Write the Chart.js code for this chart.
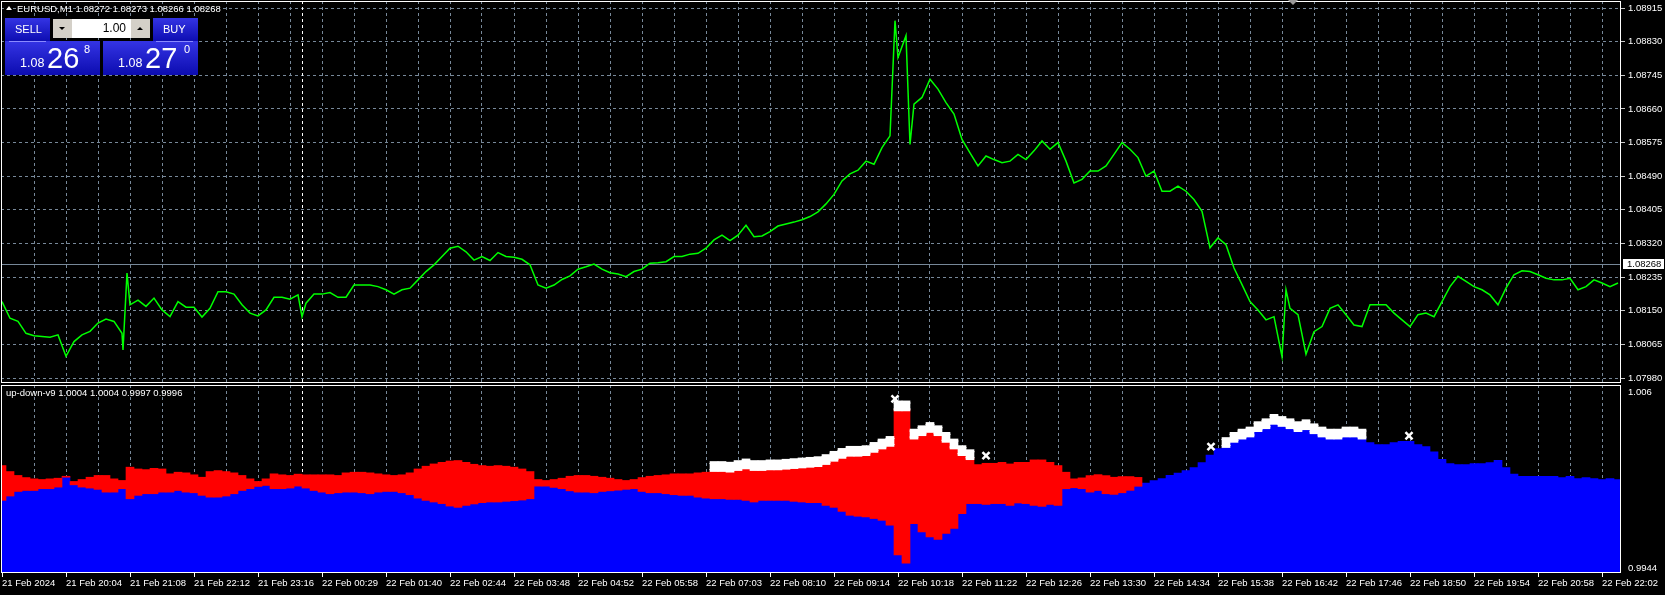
<!DOCTYPE html>
<html lang="de">
<head>
<meta charset="utf-8">
<title>EURUSD M1</title>
<script src="https://cdn.jsdelivr.net/npm/chart.js@4.4.1/dist/chart.umd.min.js"></script>
<style>
  body { margin: 0; width: 1665px; height: 595px; background: #000; overflow: hidden; position: relative;
         font-family: 'Liberation Sans', Arial, sans-serif; color: #fff; }
  canvas { position: absolute; left: 0; }
  #mainChart { top: 0; }
  #indChart { top: 384px; }
  .txt { position: absolute; white-space: nowrap; font-size: 9.5px; line-height: 12px; }
  .blue { position: absolute; background: linear-gradient(#3434e4, #0c0cb0); }
  .lbl { position: absolute; white-space: nowrap; line-height: 1; color: #fff; }
  .uline { position: absolute; height: 1px; background: #8a8aff; top: 41px; }
  .lotbtn { position: absolute; top: 19px; width: 19px; height: 19px; background: #d4d0c8; }
  .tri { position: absolute; width: 0; height: 0; border-left: 3px solid transparent; border-right: 3px solid transparent; }
  #bidLabel { position: absolute; left: 1623px; width: 37px; height: 10px; line-height: 10px; padding-left: 4px;
              background: #fff; color: #000; font-size: 9.5px; }
</style>
</head>
<body>
<canvas id="mainChart" width="1665" height="384"></canvas>
<canvas id="indChart" width="1665" height="211"></canvas>

<!-- Titelzeile -->
<div class="tri" style="left:6px;top:6px;border-bottom:4px solid #fff"></div>
<div class="txt" style="left:17px;top:3px">EURUSD,M1 1.08272 1.08273 1.08266 1.08268</div>

<!-- Handelspanel -->
<div class="blue" style="left:5px;top:18px;width:45px;height:24px"></div>
<div class="blue" style="left:153px;top:18px;width:45px;height:24px"></div>
<div class="blue" style="left:5px;top:41px;width:95px;height:34px"></div>
<div class="blue" style="left:103px;top:41px;width:95px;height:34px"></div>
<div class="uline" style="left:9px;width:37px"></div>
<div class="uline" style="left:156px;width:37px"></div>
<div class="lbl" style="left:15px;top:24px;font-size:11px">SELL</div>
<div class="lbl" style="left:163px;top:24px;font-size:11px">BUY</div>
<div class="lotbtn" style="left:53px"><div class="tri" style="left:6px;top:8px;border-top:3px solid #000"></div></div>
<div class="lotbtn" style="left:131px"><div class="tri" style="left:6px;top:8px;border-bottom:3px solid #000"></div></div>
<div style="position:absolute;left:72px;top:19px;width:59px;height:19px;background:#fff"></div>
<div class="lbl" style="left:72px;top:22px;width:54px;text-align:right;font-size:12px;color:#000">1.00</div>
<div class="lbl" style="left:20px;top:57px;font-size:12.5px">1.08</div>
<div class="lbl" style="left:47px;top:44px;font-size:29px">26</div>
<div class="lbl" style="left:84px;top:44px;font-size:11px">8</div>
<div class="lbl" style="left:118px;top:57px;font-size:12.5px">1.08</div>
<div class="lbl" style="left:145px;top:44px;font-size:29px">27</div>
<div class="lbl" style="left:184px;top:44px;font-size:11px">0</div>

<!-- Markierung oben (Chart-Verschiebung) -->
<div class="tri" style="left:1288px;top:0px;border-left-width:5px;border-right-width:5px;border-top:5px solid #9a9a9a"></div>

<!-- Indikator-Beschriftungen -->
<div class="txt" style="left:6px;top:387px">up-down-v9 1.0004 1.0004 0.9997 0.9996</div>
<div class="txt" style="left:1628px;top:386px">1.006</div>
<div class="txt" style="left:1628px;top:562px">0.9944</div>
<div id="bidLabel">1.08268</div>

<script>
// Zeitachse: Minuten ab 21 Feb 19:00, ein Wert alle 8 Minuten
const stepMinutes = 8;

// Beschriftungen der Zeitachse (alle 64 Minuten)
const xLabels = ['21 Feb 2024', '21 Feb 20:04', '21 Feb 21:08', '21 Feb 22:12', '21 Feb 23:16',
  '22 Feb 00:29', '22 Feb 01:40', '22 Feb 02:44', '22 Feb 03:48', '22 Feb 04:52', '22 Feb 05:58',
  '22 Feb 07:03', '22 Feb 08:10', '22 Feb 09:14', '22 Feb 10:18', '22 Feb 11:22', '22 Feb 12:26',
  '22 Feb 13:30', '22 Feb 14:34', '22 Feb 15:38', '22 Feb 16:42', '22 Feb 17:46', '22 Feb 18:50',
  '22 Feb 19:54', '22 Feb 20:58', '22 Feb 22:02'];

// Preisskala rechts
const priceTicks = [1.07980, 1.08065, 1.08150, 1.08235, 1.08320, 1.08405, 1.08490,
  1.08575, 1.08660, 1.08745, 1.08830, 1.08915];
const priceRange = [1.079674, 1.089327];
const bidPrice = 1.08268;
const daySeparator = [300]; // 22 Feb 00:00

// EURUSD Schlusskurse
const priceClose = [
  1.08173, 1.08131, 1.08123, 1.08093, 1.08087, 1.08085, 1.08083, 1.08089, 1.08035, 1.08072,
  1.08089, 1.08098, 1.08119, 1.08129, 1.08123, 1.08093, 1.08165, 1.08177, 1.08161, 1.08182,
  1.08152, 1.08135, 1.08173, 1.08159, 1.08159, 1.08134, 1.08156, 1.08198, 1.08198, 1.08192,
  1.08165, 1.08144, 1.08137, 1.08152, 1.08184, 1.08184, 1.08179, 1.08190, 1.08169, 1.08192,
  1.08192, 1.08196, 1.08184, 1.08184, 1.08215, 1.08215, 1.08215, 1.08211, 1.08203, 1.08192,
  1.08203, 1.08207, 1.08228, 1.08249, 1.08266, 1.08287, 1.08308, 1.08313, 1.08299, 1.08278,
  1.08287, 1.08277, 1.08297, 1.08287, 1.08285, 1.08280, 1.08266, 1.08215, 1.08207, 1.08215,
  1.08229, 1.08238, 1.08255, 1.08261, 1.08268, 1.08255, 1.08246, 1.08243, 1.08236, 1.08249,
  1.08255, 1.08270, 1.08271, 1.08274, 1.08287, 1.08287, 1.08293, 1.08295, 1.08308, 1.08329,
  1.08341, 1.08327, 1.08341, 1.08366, 1.08337, 1.08339, 1.08350, 1.08364, 1.08369, 1.08374,
  1.08380, 1.08388, 1.08400, 1.08420, 1.08444, 1.08478, 1.08496, 1.08505, 1.08528, 1.08520,
  1.08562, 1.08592, 1.08790, 1.08845, 1.08672, 1.08689, 1.08735, 1.08710, 1.08676, 1.08647,
  1.08583, 1.08549, 1.08516, 1.08541, 1.08532, 1.08524, 1.08528, 1.08545, 1.08532, 1.08554,
  1.08579, 1.08558, 1.08575, 1.08528, 1.08473, 1.08482, 1.08503, 1.08503, 1.08516, 1.08545,
  1.08575, 1.08558, 1.08537, 1.08490, 1.08503, 1.08452, 1.08452, 1.08465, 1.08452, 1.08431,
  1.08401, 1.08309, 1.08334, 1.08317, 1.08258, 1.08216, 1.08173, 1.08152, 1.08127, 1.08135,
  1.08034, 1.08156, 1.08140, 1.08040, 1.08097, 1.08110, 1.08156, 1.08165, 1.08140, 1.08114,
  1.08110, 1.08165, 1.08165, 1.08165, 1.08144, 1.08127, 1.08110, 1.08140, 1.08144, 1.08135,
  1.08173, 1.08211, 1.08237, 1.08224, 1.08211, 1.08203, 1.08190, 1.08165, 1.08207, 1.08241,
  1.08251, 1.08249, 1.08241, 1.08232, 1.08228, 1.08228, 1.08232, 1.08203, 1.08211, 1.08228,
  1.08220, 1.08211, 1.08220
];

// Einzelne Ausreisser (Minute, Kurs)
const spikeMinutes = [121, 125, 300, 893, 908, 1284];
const spikeValues = [1.08051, 1.08245, 1.08135, 1.08883, 1.08570, 1.08203];

// Indikator up-down-v9
const indicatorRange = [0.9944, 1.006];

// blaues Histogramm (Obergrenze)
const blueLevel = [
  0.99888, 0.99915, 0.99943, 0.99949, 0.99949, 0.99960, 0.99960, 0.99970, 1.00031, 0.99984,
  0.99970, 0.99964, 0.99956, 0.99939, 0.99939, 0.99960, 0.99898, 0.99919, 0.99929, 0.99929,
  0.99939, 0.99939, 0.99949, 0.99939, 0.99935, 0.99919, 0.99908, 0.99908, 0.99915, 0.99929,
  0.99949, 0.99960, 0.99974, 0.99980, 0.99960, 0.99960, 0.99964, 0.99976, 0.99964, 0.99949,
  0.99939, 0.99929, 0.99935, 0.99939, 0.99939, 0.99935, 0.99929, 0.99939, 0.99943, 0.99943,
  0.99935, 0.99923, 0.99902, 0.99888, 0.99878, 0.99868, 0.99853, 0.99845, 0.99857, 0.99866,
  0.99874, 0.99878, 0.99878, 0.99882, 0.99886, 0.99890, 0.99898, 0.99976, 0.99976, 0.99968,
  0.99960, 0.99947, 0.99939, 0.99939, 0.99935, 0.99943, 0.99947, 0.99951, 0.99956, 0.99960,
  0.99943, 0.99935, 0.99935, 0.99929, 0.99923, 0.99919, 0.99919, 0.99908, 0.99902, 0.99898,
  0.99898, 0.99894, 0.99894, 0.99888, 0.99878, 0.99888, 0.99888, 0.99888, 0.99888, 0.99882,
  0.99878, 0.99874, 0.99874, 0.99857, 0.99845, 0.99820, 0.99796, 0.99790, 0.99786, 0.99776,
  0.99765, 0.99735, 0.99551, 0.99500, 0.99745, 0.99694, 0.99663, 0.99647, 0.99684, 0.99715,
  0.99806, 0.99868, 0.99868, 0.99863, 0.99868, 0.99868, 0.99857, 0.99872, 0.99868, 0.99857,
  0.99851, 0.99863, 0.99857, 0.99960, 0.99966, 0.99960, 0.99939, 0.99949, 0.99929, 0.99925,
  0.99935, 0.99950, 0.99975, 0.99995, 1.00011, 1.00023, 1.00042, 1.00056, 1.00072, 1.00091,
  1.00121, 1.00167, 1.00207, 1.00220, 1.00252, 1.00272, 1.00285, 1.00318, 1.00336, 1.00363,
  1.00350, 1.00336, 1.00318, 1.00330, 1.00305, 1.00285, 1.00272, 1.00272, 1.00285, 1.00285,
  1.00272, 1.00245, 1.00232, 1.00232, 1.00245, 1.00252, 1.00252, 1.00232, 1.00220, 1.00187,
  1.00142, 1.00115, 1.00109, 1.00109, 1.00115, 1.00115, 1.00121, 1.00135, 1.00091, 1.00050,
  1.00037, 1.00037, 1.00037, 1.00037, 1.00037, 1.00029, 1.00037, 1.00023, 1.00029, 1.00023,
  1.00017, 1.00023, 1.00017
];

// rotes Band: von blueLevel bis redHigh (nur die ersten 143 Werte)
const redHigh = [
  1.00103, 1.00066, 1.00042, 1.00029, 1.00021, 1.00017, 1.00021, 1.00025, 1.00037, 1.00005,
  1.00017, 1.00031, 1.00042, 1.00042, 1.00021, 1.00011, 1.00093, 1.00082, 1.00078, 1.00086,
  1.00082, 1.00052, 1.00062, 1.00058, 1.00046, 1.00031, 1.00066, 1.00072, 1.00066, 1.00058,
  1.00042, 1.00021, 1.00005, 1.00021, 1.00052, 1.00046, 1.00042, 1.00050, 1.00046, 1.00046,
  1.00046, 1.00046, 1.00042, 1.00058, 1.00062, 1.00062, 1.00058, 1.00052, 1.00046, 1.00042,
  1.00046, 1.00058, 1.00082, 1.00099, 1.00113, 1.00123, 1.00131, 1.00134, 1.00123, 1.00111,
  1.00103, 1.00099, 1.00103, 1.00099, 1.00093, 1.00082, 1.00066, 1.00017, 1.00011, 1.00017,
  1.00025, 1.00037, 1.00042, 1.00042, 1.00037, 1.00031, 1.00025, 1.00017, 1.00011, 1.00017,
  1.00029, 1.00037, 1.00042, 1.00046, 1.00052, 1.00052, 1.00052, 1.00058, 1.00062, 1.00077,
  1.00077, 1.00073, 1.00083, 1.00093, 1.00083, 1.00083, 1.00087, 1.00087, 1.00091, 1.00095,
  1.00099, 1.00103, 1.00107, 1.00120, 1.00140, 1.00158, 1.00170, 1.00170, 1.00175, 1.00195,
  1.00215, 1.00230, 1.00450, 1.00450, 1.00277, 1.00297, 1.00317, 1.00297, 1.00257, 1.00215,
  1.00175, 1.00150, 1.00109, 1.00117, 1.00117, 1.00123, 1.00113, 1.00123, 1.00123, 1.00138,
  1.00138, 1.00123, 1.00103, 1.00062, 1.00021, 1.00027, 1.00041, 1.00047, 1.00041, 1.00031,
  1.00035, 1.00035, 1.00030
];

// weisse Kreuze (Band oben auf dem Histogramm)
const whiteMinutes = [712, 720, 728, 736, 744, 752, 760, 768, 776, 784, 792, 800, 808, 816, 824,
  832, 840, 848, 856, 864, 872, 880, 888, 896, 904, 912, 920, 928, 936, 944, 952, 960, 968,
  1224, 1232, 1240, 1248, 1256, 1264, 1272, 1280, 1288, 1296, 1304, 1312, 1320, 1328, 1336,
  1344, 1352, 1360];
const whiteValues = [1.00097, 1.00097, 1.00093, 1.00103, 1.00113, 1.00103, 1.00103, 1.00107,
  1.00107, 1.00111, 1.00115, 1.00119, 1.00123, 1.00127, 1.00140, 1.00160, 1.00178, 1.00191,
  1.00191, 1.00195, 1.00215, 1.00236, 1.00252, 1.00471, 1.00471, 1.00297, 1.00318, 1.00338,
  1.00318, 1.00277, 1.00236, 1.00195, 1.00170,
  1.00245, 1.00277, 1.00297, 1.00310, 1.00343, 1.00361, 1.00388, 1.00375, 1.00361, 1.00343,
  1.00355, 1.00330, 1.00310, 1.00297, 1.00297, 1.00310, 1.00310, 1.00297];

// einzelne Kreuze
const crossMinutes = [893, 984, 1209, 1407];
const crossValues = [1.00514, 1.00164, 1.00220, 1.00287];

// Stil
const gridColor = '#778899';
const axisFont = { family: "'Liberation Sans', Arial, sans-serif", size: 9.5 };
const whiteHalf = 0.00031;

// Datenpunkte aufbauen
const pricePoints = priceClose.map((v, i) => ({ x: i * stepMinutes, y: v }))
  .concat(spikeMinutes.map((m, k) => ({ x: m, y: spikeValues[k] })))
  .sort((a, b) => a.x - b.x);

const blueBars = blueLevel.map((v, i) => ({ x: i * stepMinutes, y: [indicatorRange[0], v] }));
const redBars = redHigh.map((v, i) => ({ x: i * stepMinutes, y: [blueLevel[i], v] }));
const whiteBars = whiteMinutes.map((m, k) => ({ x: m, y: [whiteValues[k] - whiteHalf, whiteValues[k] + whiteHalf] }));
const whitePoints = whiteMinutes.map((m, k) => ({ x: m, y: whiteValues[k] }));
const crossPoints = crossMinutes.map((m, k) => ({ x: m, y: crossValues[k] }));

// Zeitachse fuer beide Fenster
function timeAxis(showLabels) {
  return {
    type: 'linear',
    min: -1,
    max: 1619,
    offset: false,
    afterBuildTicks: scale => {
      scale.ticks = [];
      for (let k = 0; k < xLabels.length * 2 - 1; k++) scale.ticks.push({ value: k * 32 });
    },
    afterFit: scale => {
      scale.paddingLeft = 0;
      scale.paddingRight = 0;
      scale.height = showLabels ? 22 : 0;
    },
    grid: {
      offset: false,
      color: c => (c.index === 0 ? 'rgba(0,0,0,0)' : gridColor),
      drawTicks: showLabels,
      tickLength: 4,
      tickColor: c => (c.index % 2 === 0 ? '#ffffff' : 'rgba(0,0,0,0)')
    },
    border: { display: false, dash: [3, 3] },
    ticks: {
      display: showLabels,
      autoSkip: false,
      maxRotation: 0,
      align: 'start',
      padding: 1,
      color: '#ffffff',
      font: axisFont,
      callback: (v, i) => (i % 2 === 0 ? xLabels[i / 2] : '')
    }
  };
}

// weisser Rahmen um den Zeichenbereich
const framePlugin = {
  id: 'frame',
  afterDraw(chart) {
    const a = chart.chartArea;
    const ctx = chart.ctx;
    ctx.save();
    ctx.strokeStyle = '#ffffff';
    ctx.lineWidth = 1;
    ctx.strokeRect(a.left + 0.5, a.top + 0.5, a.right - a.left - 1, a.bottom - a.top - 1);
    ctx.restore();
  }
};

// Tagestrenner (weiss gestrichelt)
const separatorPlugin = {
  id: 'separator',
  beforeDatasetsDraw(chart) {
    const a = chart.chartArea;
    const ctx = chart.ctx;
    ctx.save();
    ctx.strokeStyle = '#ffffff';
    ctx.setLineDash([3, 3]);
    daySeparator.forEach(m => {
      const x = Math.round(chart.scales.x.getPixelForValue(m)) + 0.5;
      ctx.beginPath();
      ctx.moveTo(x, a.top);
      ctx.lineTo(x, a.bottom);
      ctx.stroke();
    });
    ctx.restore();
  }
};

// Bid-Linie und Preisschild
const bidPlugin = {
  id: 'bid',
  beforeDatasetsDraw(chart) {
    const a = chart.chartArea;
    const ctx = chart.ctx;
    const y = Math.round(chart.scales.y.getPixelForValue(bidPrice)) + 0.5;
    ctx.save();
    ctx.strokeStyle = gridColor;
    ctx.beginPath();
    ctx.moveTo(a.left, y);
    ctx.lineTo(a.right, y);
    ctx.stroke();
    ctx.restore();
    document.getElementById('bidLabel').style.top = (y - 5.5) + 'px';
  }
};

// Hauptfenster: Kurslinie
new Chart(document.getElementById('mainChart'), {
  type: 'line',
  data: {
    datasets: [{
      data: pricePoints,
      borderColor: '#00ff00',
      borderWidth: 1.5,
      pointRadius: 0,
      tension: 0
    }]
  },
  options: {
    responsive: false,
    animation: false,
    events: [],
    layout: { autoPadding: false, padding: { left: 1, top: 1, right: 0, bottom: 1 } },
    plugins: { legend: { display: false }, tooltip: { enabled: false } },
    scales: {
      x: timeAxis(false),
      y: {
        position: 'right',
        min: priceRange[0],
        max: priceRange[1],
        afterBuildTicks: scale => { scale.ticks = priceTicks.map(v => ({ value: v })); },
        afterFit: scale => { scale.width = 44; scale.paddingTop = 0; scale.paddingBottom = 0; },
        grid: { color: gridColor, tickLength: 4, tickColor: '#c8c8c8' },
        border: { display: false, dash: [3, 3] },
        ticks: { color: '#ffffff', padding: 3, font: axisFont, autoSkip: false, callback: v => v.toFixed(5) }
      }
    }
  },
  plugins: [separatorPlugin, bidPlugin, framePlugin]
});

// Indikatorfenster: Histogramme und Kreuze
new Chart(document.getElementById('indChart'), {
  type: 'bar',
  data: {
    datasets: [
      { type: 'line', data: crossPoints, showLine: false, pointStyle: 'crossRot', pointRadius: 5,
        pointBorderWidth: 2.5, pointBorderColor: '#ffffff', order: 1 },
      { type: 'line', data: whitePoints, showLine: false, pointStyle: 'crossRot', pointRadius: 5.5,
        pointBorderWidth: 2.5, pointBorderColor: '#ffffff', order: 1 },
      { data: whiteBars, backgroundColor: '#ffffff', order: 2 },
      { data: redBars, backgroundColor: '#ff0000', order: 3 },
      { data: blueBars, backgroundColor: '#0000ff', order: 4 }
    ]
  },
  options: {
    responsive: false,
    animation: false,
    events: [],
    datasets: { bar: { barThickness: 8, grouped: false, borderWidth: 0 } },
    layout: { autoPadding: false, padding: { left: 1, top: 1, right: 0, bottom: 0 } },
    plugins: { legend: { display: false }, tooltip: { enabled: false } },
    scales: {
      x: timeAxis(true),
      y: {
        position: 'right',
        min: indicatorRange[0],
        max: indicatorRange[1],
        afterFit: scale => { scale.width = 44; scale.paddingTop = 0; scale.paddingBottom = 0; },
        grid: { display: false },
        border: { display: false },
        ticks: { display: false }
      }
    }
  },
  plugins: [separatorPlugin, framePlugin]
});
</script>
</body>
</html>
